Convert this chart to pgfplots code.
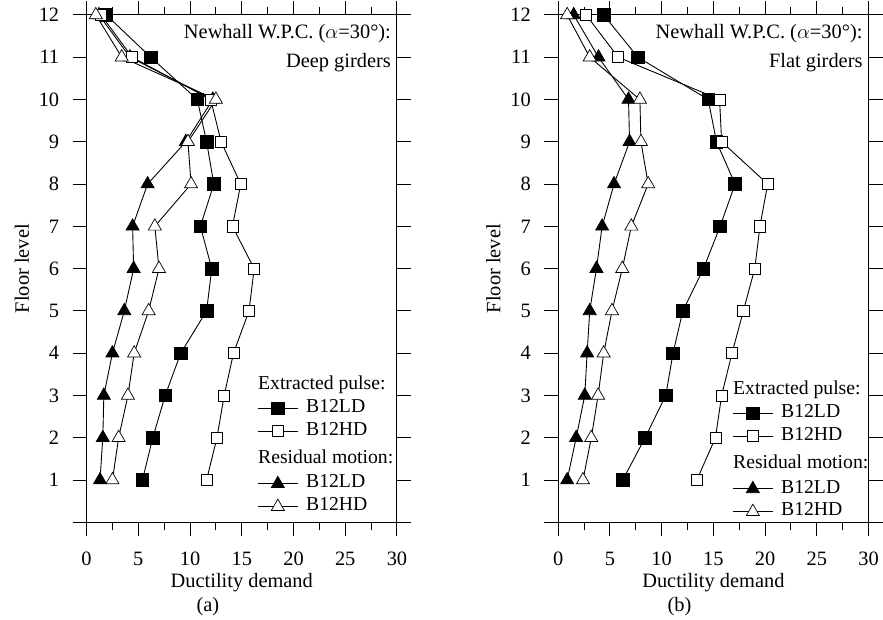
\documentclass[border=0pt]{standalone}
\usepackage{fontspec}
\setmainfont{Liberation Serif}
\usepackage{pgfplots}
\pgfplotsset{compat=1.18}
\newcommand\fs{\fontsize{20.5bp}{24bp}\selectfont}
\newcommand\lfs{\fontsize{19.8bp}{21bp}\selectfont}

\pgfplotstableread{
floor bld bhd rld rhd
1  5.4  11.6 1.3  2.5
2  6.4  12.6 1.57 3.1
3  7.6  13.3 1.67 4.0
4  9.1  14.2 2.5  4.6
5  11.6 15.7 3.65 6.0
6  12.1 16.2 4.55 7.0
7  11.0 14.1 4.45 6.6
8  12.3 14.9 5.9  10.1
9  11.6 13.0 9.6  9.8
10 10.7 12.0 12.2 12.5
11 6.2  4.4  4.2  3.4
12 1.9  1.4  1.2  0.9
}\deep

\pgfplotstableread{
floor bld bhd rld rhd
1  6.24 13.4 0.87 2.4
2  8.4  15.2 1.74 3.2
3  10.4 15.8 2.57 3.86
4  11.1 16.8 2.8  4.4
5  12.05 17.9 3.05 5.2
6  14.05 19.0 3.7 6.2
7  15.65 19.5 4.25 7.07
8  17.1 20.25 5.4 8.7
9  15.3 15.8 6.9  8.0
10 14.5 15.6 6.8  7.9
11 7.7  5.8  3.9  3.05
12 4.4  2.7  1.5  0.87
}\flat

\pgfplotsset{
 bsq/.style={black, line width=0.9bp, mark=square*, mark size=6.3bp, mark options={line width=0.7bp, fill=black}},
 osq/.style={black, line width=0.9bp, mark=square*, mark size=5.6bp, mark options={line width=0.7bp, fill=white}},
 btri/.style={black, line width=0.9bp, mark=triangle*, mark size=7.6bp, mark options={line width=0.7bp, fill=black}},
 otri/.style={black, line width=0.9bp, mark=triangle*, mark size=7.6bp, mark options={line width=0.7bp, fill=white}},
 panel/.style={
  scale only axis, width=312bp, height=510bp,
  xmin=0, xmax=30, ymin=0, ymax=12,
  xtick={0,5,...,30}, minor x tick num=1,
  ytick={0,...,12}, yticklabels={,1,2,3,4,5,6,7,8,9,10,11,12},
  tick align=outside, major tick length=14bp, minor tick length=8bp,
  axis line style={line width=1bp},
  every tick/.style={black, line width=1bp},
  /pgf/number format/assume math mode=true,
  ticklabel style={font=\fs},
  xticklabel style={yshift=-12bp},
  yticklabel style={xshift=-10bp},
  xlabel={Ductility demand}, ylabel={Floor level},
  x label style={at={(axis description cs:0.5,-0.1185)}, anchor=center, font=\fs},
  y label style={at={(axis description cs:-0.2083,0.5)}, anchor=center, font=\fs},
  clip=false,
  legend cell align=left,
  legend style={draw=none, fill=none, font=\lfs, inner sep=0pt, row sep=0bp,
    column sep=7bp, nodes={inner sep=1bp, text depth=, text height=}},
  legend image code/.code={\draw[mark repeat=2,mark phase=2,##1] plot coordinates {(0bp,0bp) (20bp,0bp) (40bp,0bp)};},
 },
}

\newcommand\legendblock{%
\addlegendimage{legend image code/.code={\node[overlay,anchor=west,inner sep=0pt] at (0bp,0bp) {\lfs\strut Extracted pulse:};}}
\addlegendentry{\strut}
\addlegendimage{bsq}\addlegendentry{\strut B12LD}
\addlegendimage{osq}\addlegendentry{\strut B12HD}
\addlegendimage{legend image code/.code={\node[overlay,anchor=west,inner sep=0pt] at (0bp,-1.5bp) {\lfs\strut Residual motion:};}}
\addlegendentry{\rule[-8.3bp]{0pt}{28bp}}
\addlegendimage{btri}\addlegendentry{\strut B12LD}
\addlegendimage{otri}\addlegendentry{\strut B12HD}
}

\begin{document}
\begin{tikzpicture}[font=\fs]
\path (0,0) rectangle (883bp,-618bp);

% ---------------- (a) ----------------
\begin{axis}[panel, at={(87bp,-525bp)}, anchor=south west,
  legend style={at={(axis description cs:0.55,0.293)}, anchor=north west}]
\legendblock
\addplot[btri, forget plot] table[x=rld, y=floor] {\deep};
\addplot[bsq, forget plot] table[x=bld, y=floor] {\deep};
\addplot[osq, forget plot] table[x=bhd, y=floor] {\deep};
\addplot[otri, forget plot] table[x=rhd, y=floor] {\deep};

\node[anchor=base east, inner sep=0pt] at (axis description cs:0.981,0.953) {Newhall W.P.C. ($\alpha$=30°):};
\node[anchor=base east, inner sep=0pt] at (axis description cs:0.981,0.896) {Deep girders};
\node[anchor=center] at (axis description cs:0.391,-0.166) {(a)};
\end{axis}

% ---------------- (b) ----------------
\begin{axis}[panel, at={(561bp,-525bp)}, anchor=south west,
  legend style={at={(axis description cs:0.561,0.283)}, anchor=north west}]
\legendblock
\addplot[btri, forget plot] table[x=rld, y=floor] {\flat};
\addplot[bsq, forget plot] table[x=bld, y=floor] {\flat};
\addplot[osq, forget plot] table[x=bhd, y=floor] {\flat};
\addplot[otri, forget plot] table[x=rhd, y=floor] {\flat};

\node[anchor=base east, inner sep=0pt] at (axis description cs:0.981,0.953) {Newhall W.P.C. ($\alpha$=30°):};
\node[anchor=base east, inner sep=0pt] at (axis description cs:0.981,0.896) {Flat girders};
\node[anchor=center] at (axis description cs:0.391,-0.166) {(b)};
\end{axis}
\end{tikzpicture}
\end{document}
